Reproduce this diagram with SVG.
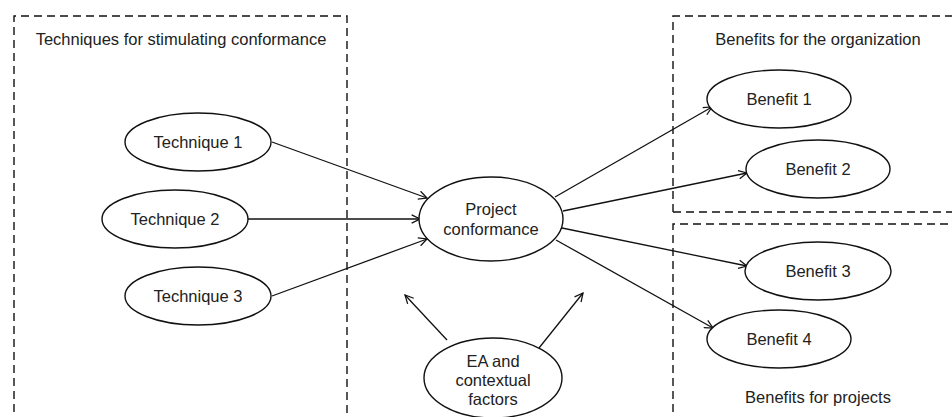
<svg xmlns="http://www.w3.org/2000/svg" width="952" height="417" viewBox="0 0 952 417">
<style>
.box{fill:none;stroke:#111;stroke-width:1.4;stroke-dasharray:8 5}
.node{fill:#fff;stroke:#111;stroke-width:1.4}
.lbl{font-family:"Liberation Sans",Arial,sans-serif;font-size:16.5px;fill:#222;text-anchor:middle}
.conn{fill:none;stroke:#111;stroke-width:1.3;marker-end:url(#arr)}
</style>
<defs>
<marker id="arr" viewBox="0 0 12 12" refX="11" refY="6" markerWidth="10" markerHeight="10" markerUnits="userSpaceOnUse" orient="auto">
<path d="M1,1 L11,6 L1,11" fill="none" stroke="#111" stroke-width="1.5"/>
</marker>
</defs>
<rect width="952" height="417" fill="#fff"/>
<g id="groups">
<path class="box" d="M14,425 V16 H347 V425"/>
<path class="box" d="M673,212 V16 H960 M673,212 H960"/>
<path class="box" d="M673,425 V224 H960"/>
<text class="lbl" x="181" y="45">Techniques for stimulating conformance</text>
<text class="lbl" x="818" y="45">Benefits for the organization</text>
<text class="lbl" x="818" y="403">Benefits for projects</text>
</g>
<g id="connectors">
<line class="conn" x1="272" y1="142" x2="427" y2="198"/>
<line class="conn" x1="247" y1="219" x2="420" y2="219"/>
<line class="conn" x1="272" y1="296" x2="427" y2="239"/>
<line class="conn" x1="555" y1="197" x2="712" y2="107"/>
<line class="conn" x1="563" y1="211" x2="747" y2="173"/>
<line class="conn" x1="562" y1="228" x2="747" y2="266"/>
<line class="conn" x1="556" y1="240" x2="713" y2="328"/>
<line class="conn" x1="447" y1="340" x2="405" y2="295"/>
<line class="conn" x1="539" y1="348" x2="583" y2="293"/>
</g>
<g id="technique1"><ellipse class="node" cx="198" cy="142" rx="73" ry="29"/><text class="lbl" x="198" y="148">Technique 1</text></g>
<g id="technique2"><ellipse class="node" cx="175" cy="219" rx="73" ry="29"/><text class="lbl" x="175" y="225">Technique 2</text></g>
<g id="technique3"><ellipse class="node" cx="198" cy="296" rx="73" ry="29"/><text class="lbl" x="198" y="302">Technique 3</text></g>
<g id="project"><ellipse class="node" cx="491" cy="219" rx="72" ry="42"/><text class="lbl" x="491" y="215">Project</text><text class="lbl" x="491" y="235">conformance</text></g>
<g id="ea"><ellipse class="node" cx="493" cy="378" rx="69" ry="40"/><text class="lbl" x="493" y="367">EA and</text><text class="lbl" x="493" y="386">contextual</text><text class="lbl" x="493" y="405">factors</text></g>
<g id="benefit1"><ellipse class="node" cx="779" cy="99" rx="72" ry="29"/><text class="lbl" x="779" y="105">Benefit 1</text></g>
<g id="benefit2"><ellipse class="node" cx="818" cy="169" rx="72" ry="29"/><text class="lbl" x="818" y="175">Benefit 2</text></g>
<g id="benefit3"><ellipse class="node" cx="818" cy="271" rx="73" ry="29"/><text class="lbl" x="818" y="277">Benefit 3</text></g>
<g id="benefit4"><ellipse class="node" cx="779" cy="339" rx="72" ry="29"/><text class="lbl" x="779" y="345">Benefit 4</text></g>
</svg>
